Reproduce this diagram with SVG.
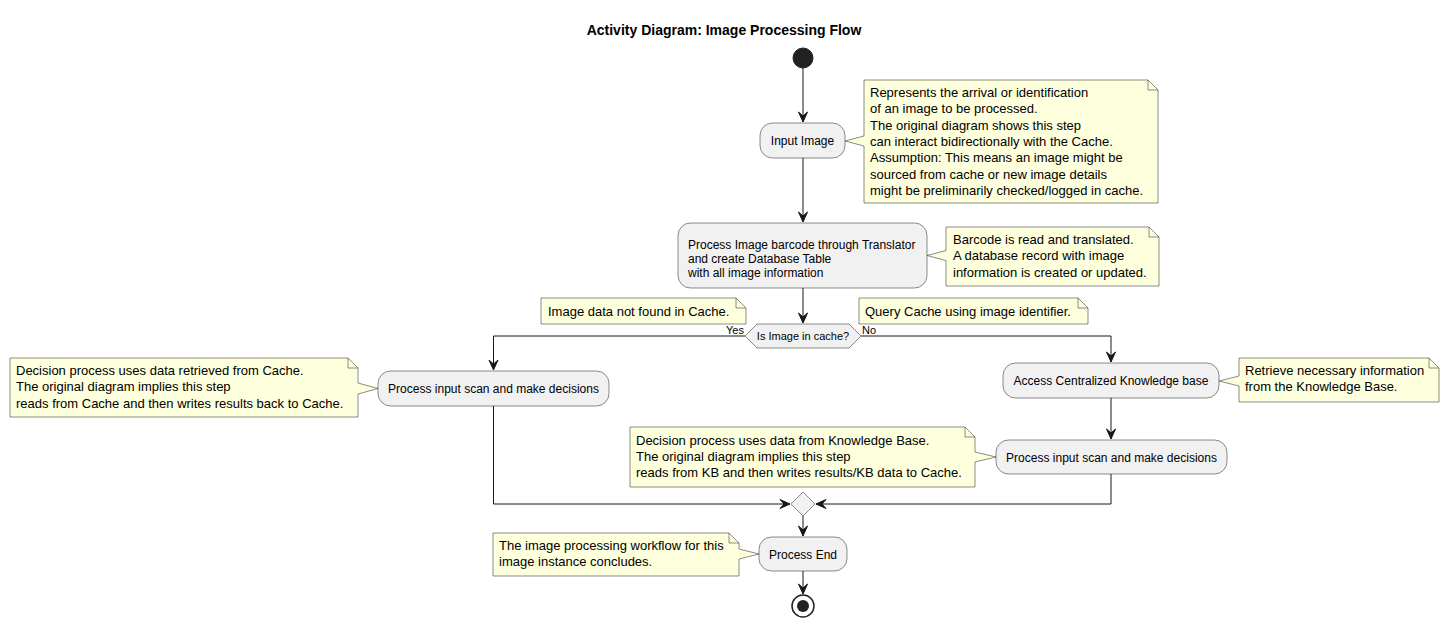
<svg xmlns="http://www.w3.org/2000/svg" width="1449" height="627" viewBox="0 0 1449 627">
<defs>
<style>
.act{fill:#F1F1F1;stroke:#181818;stroke-width:0.5;}
.note{fill:#FEFFDD;stroke:#181818;stroke-width:0.5;}
.fold{fill:none;stroke:#181818;stroke-width:0.5;}
.at{font-family:"Liberation Sans",Arial,sans-serif;font-size:12px;fill:#000;}
.nt{font-family:"Liberation Sans",Arial,sans-serif;font-size:13px;fill:#000;}
.dt{font-family:"Liberation Sans",Arial,sans-serif;font-size:11px;fill:#000;}
.edge{fill:none;stroke:#181818;stroke-width:1;}
.mid{text-anchor:middle;}
</style>
<marker id="arr" viewBox="-1 -1 12 11" refX="10" refY="4.5" markerWidth="12" markerHeight="11" markerUnits="userSpaceOnUse" orient="auto">
<path d="M0,0 L10,4.5 L0,9 L4,4.5 Z" fill="#181818" stroke="#181818" stroke-width="1" stroke-linejoin="miter"/>
</marker>
</defs>
<rect width="1449" height="627" fill="#FFFFFF"/>
<text x="724" y="35" class="mid" style="font-family:'Liberation Sans',Arial,sans-serif;font-size:14px;font-weight:bold;">Activity Diagram: Image Processing Flow</text>

<g id="connectors">
<path class="edge" d="M803,68 V122" marker-end="url(#arr)"/>
<path class="edge" d="M803,158 V222" marker-end="url(#arr)"/>
<path class="edge" d="M803,288 V323" marker-end="url(#arr)"/>
<path class="edge" d="M745,336 H493.5 V370" marker-end="url(#arr)"/>
<path class="edge" d="M861,336 H1111 V362" marker-end="url(#arr)"/>
<path class="edge" d="M1111,398 V439" marker-end="url(#arr)"/>
<path class="edge" d="M493.5,406 V504 H790" marker-end="url(#arr)"/>
<path class="edge" d="M1111,474 V504 H816" marker-end="url(#arr)"/>
<path class="edge" d="M803,516 V536" marker-end="url(#arr)"/>
<path class="edge" d="M803,571 V594" marker-end="url(#arr)"/>
<text x="744" y="333.5" class="dt" style="text-anchor:end;">Yes</text>
<text x="862" y="333.5" class="dt">No</text>
</g>

<g id="start">
<circle cx="803" cy="58" r="10" fill="#222222" stroke="#222222" stroke-width="1"/>
</g>

<g id="input-image">
<rect class="act" x="760" y="123" width="85" height="35" rx="12.5" ry="12.5"/>
<text x="802.5" y="145" class="at mid">Input Image</text>
</g>
<g id="note-input">
<path class="note" d="M864,80 L1148,80 L1158,90 L1158,203 L864,203 L864,146 L845,141 L864,136 Z"/>
<path class="fold" d="M1148,80 L1148,90 L1158,90"/>
<text class="nt" x="870" y="97">Represents the arrival or identification</text>
<text class="nt" x="870" y="113.3">of an image to be processed.</text>
<text class="nt" x="870" y="129.6">The original diagram shows this step</text>
<text class="nt" x="870" y="145.9">can interact bidirectionally with the Cache.</text>
<text class="nt" x="870" y="162.2">Assumption: This means an image might be</text>
<text class="nt" x="870" y="178.5">sourced from cache or new image details</text>
<text class="nt" x="870" y="194.8">might be preliminarily checked/logged in cache.</text>
</g>

<g id="process-barcode">
<rect class="act" x="678" y="223" width="249" height="65" rx="12.5" ry="12.5"/>
<text class="at" x="688" y="249">Process Image barcode through Translator</text>
<text class="at" x="688" y="263.2">and create Database Table</text>
<text class="at" x="688" y="277.4">with all image information</text>
</g>
<g id="note-barcode">
<path class="note" d="M946,227 L1149,227 L1159,237 L1159,286 L946,286 L946,260.5 L927,255.5 L946,250.5 Z"/>
<path class="fold" d="M1149,227 L1149,237 L1159,237"/>
<text class="nt" x="953" y="244">Barcode is read and translated.</text>
<text class="nt" x="953" y="260.3">A database record with image</text>
<text class="nt" x="953" y="276.6">information is created or updated.</text>
</g>

<g id="decision">
<polygon class="act" points="745,336 757,324 849,324 861,336 849,348 757,348"/>
<text class="dt mid" x="803" y="340">Is Image in cache?</text>
</g>
<g id="note-notfound">
<path class="note" d="M541,298 L736,298 L746,308 L746,324 L541,324 Z"/>
<path class="fold" d="M736,298 L736,308 L746,308"/>
<text class="nt" x="548" y="316">Image data not found in Cache.</text>
</g>
<g id="note-query">
<path class="note" d="M859,298 L1078,298 L1088,308 L1088,324 L859,324 Z"/>
<path class="fold" d="M1078,298 L1078,308 L1088,308"/>
<text class="nt" x="865" y="316">Query Cache using image identifier.</text>
</g>

<g id="process-cache">
<rect class="act" x="378" y="371" width="231" height="35" rx="12.5" ry="12.5"/>
<text class="at mid" x="493.5" y="393">Process input scan and make decisions</text>
</g>
<g id="note-cache">
<path class="note" d="M10,358 L348,358 L358,368 L358,383 L378,388.5 L358,394 L358,417 L10,417 Z"/>
<path class="fold" d="M348,358 L348,368 L358,368"/>
<text class="nt" x="16" y="375">Decision process uses data retrieved from Cache.</text>
<text class="nt" x="16" y="391.3">The original diagram implies this step</text>
<text class="nt" x="16" y="407.6">reads from Cache and then writes results back to Cache.</text>
</g>

<g id="access-kb">
<rect class="act" x="1003" y="363" width="216" height="35" rx="12.5" ry="12.5"/>
<text class="at mid" x="1111" y="385">Access Centralized Knowledge base</text>
</g>
<g id="note-kb">
<path class="note" d="M1239,358 L1429,358 L1439,368 L1439,402 L1239,402 L1239,386 L1219,381 L1239,376 Z"/>
<path class="fold" d="M1429,358 L1429,368 L1439,368"/>
<text class="nt" x="1245" y="375">Retrieve necessary information</text>
<text class="nt" x="1245" y="391.3">from the Knowledge Base.</text>
</g>

<g id="process-kb">
<rect class="act" x="996" y="440" width="231" height="34" rx="12.5" ry="12.5"/>
<text class="at mid" x="1111.5" y="461.5">Process input scan and make decisions</text>
</g>
<g id="note-process-kb">
<path class="note" d="M630,427 L965,427 L975,437 L975,452 L996,457 L975,462 L975,487 L630,487 Z"/>
<path class="fold" d="M965,427 L965,437 L975,437"/>
<text class="nt" x="636" y="444.5">Decision process uses data from Knowledge Base.</text>
<text class="nt" x="636" y="460.8">The original diagram implies this step</text>
<text class="nt" x="636" y="477.1">reads from KB and then writes results/KB data to Cache.</text>
</g>

<g id="merge">
<polygon class="act" points="803,492 815,504 803,516 791,504"/>
</g>

<g id="process-end">
<rect class="act" x="759" y="537" width="88" height="34" rx="12.5" ry="12.5"/>
<text class="at mid" x="803" y="558.5">Process End</text>
</g>
<g id="note-end">
<path class="note" d="M493,533 L729,533 L739,543 L739,549 L759,554 L739,559 L739,576 L493,576 Z"/>
<path class="fold" d="M729,533 L729,543 L739,543"/>
<text class="nt" x="499" y="550">The image processing workflow for this</text>
<text class="nt" x="499" y="566.3">image instance concludes.</text>
</g>

<g id="end">
<circle cx="803" cy="606" r="11" fill="none" stroke="#222222" stroke-width="1.5"/>
<circle cx="803" cy="606" r="6" fill="#222222"/>
</g>
</svg>
